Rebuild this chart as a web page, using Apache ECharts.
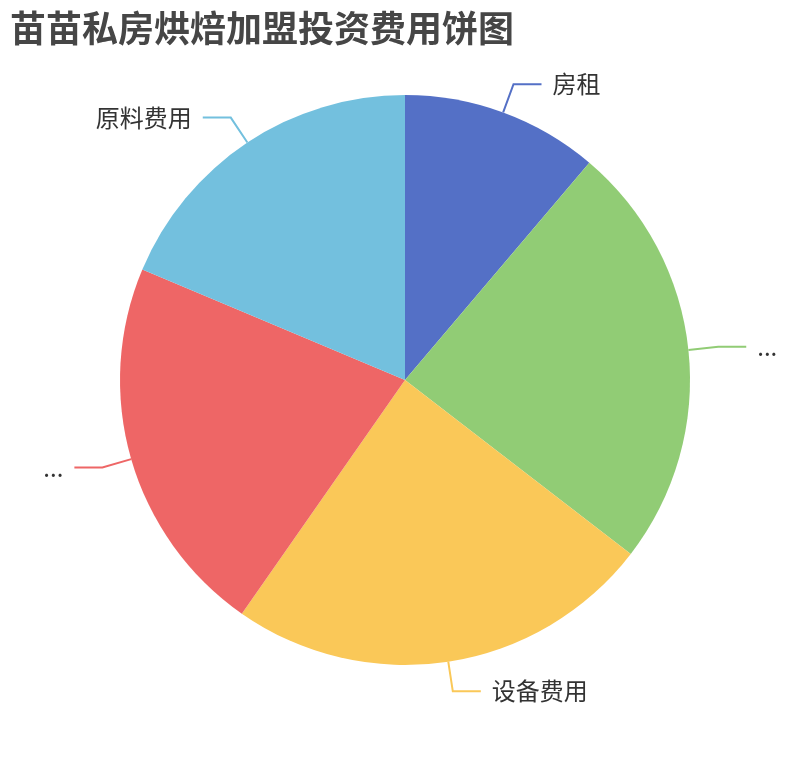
<!DOCTYPE html>
<html lang="zh">
<head>
    <meta charset="UTF-8"/>
    <script src="https://cdn.jsdelivr.net/npm/echarts@6/dist/echarts.min.js"></script>
    <title>苗苗私房烘焙加盟投资费用饼图</title>
    <style>
        html, body { margin: 0; padding: 0; background: #fff; }
    </style>
</head>
<body>
<div id="main" style="width:810px; height:760px;"></div>
<script type="text/javascript">
    // 费用类目与金额（万元，按饼图角度估算）
    var categories = ['房租', '装修及门店设计费用', '设备费用', '加盟费及品牌保证金', '原料费用'];
    var amounts = [3, 6.5, 6.5, 5.8, 5];
    var colors = ['#5470c6', '#91cc75', '#fac858', '#ee6666', '#73c0de'];

    var myChart = echarts.init(document.getElementById('main'));

    var pieData = [];
    for (var i = 0; i < categories.length; i++) {
        var item = {name: categories[i], value: amounts[i]};
        // 过长的名称只剩省略号
        if (categories[i].length > 6) {
            item.label = {width: 32, overflow: 'truncate'};
        }
        pieData.push(item);
    }

    var option = {
        color: colors,
        title: {
            text: '苗苗私房烘焙加盟投资费用饼图',
            left: 5,
            top: 5,
            textStyle: {
                fontSize: 36,
                fontWeight: 'bold',
                color: '#464646',
                fontFamily: 'Noto Sans CJK SC'
            }
        },
        series: [
            {
                name: '投资费用',
                type: 'pie',
                radius: '75%',
                center: ['50%', '50%'],
                data: pieData,
                label: {
                    fontSize: 24,
                    color: '#333',
                    distanceToLabelLine: 11,
                    fontFamily: 'Noto Sans CJK SC'
                },
                labelLine: {
                    length: 30,
                    length2: 28,
                    lineStyle: {width: 2}
                }
            }
        ]
    };

    myChart.setOption(option);
</script>
</body>
</html>
